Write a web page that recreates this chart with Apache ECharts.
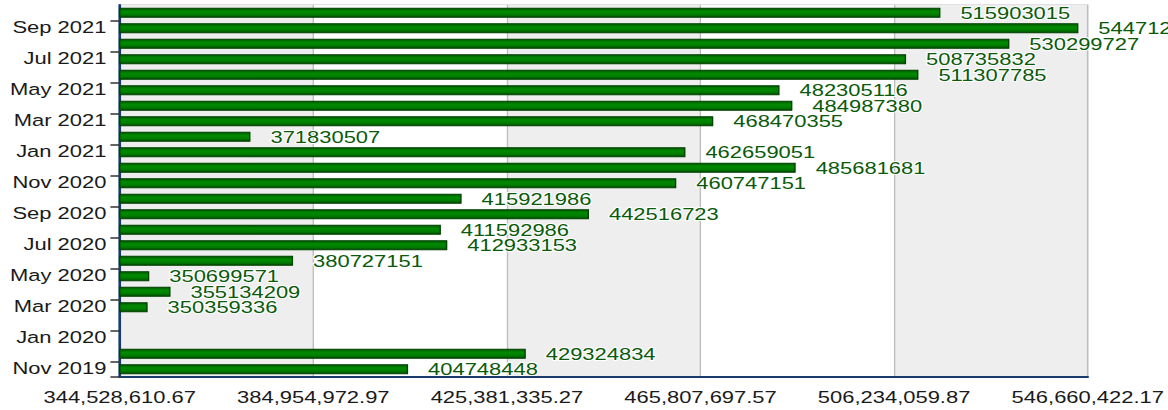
<!DOCTYPE html>
<html>
<head>
<meta charset="utf-8">
<script src="https://cdn.jsdelivr.net/npm/echarts@6/dist/echarts.min.js"></script>
<style>
  html, body { margin: 0; padding: 0; background: #fff; overflow: hidden; }
  /* the reference is stretched sideways, so draw narrow and widen */
  #chart { width: 878px; height: 410px; transform: scaleX(1.3303); transform-origin: 0 0; }
</style>
</head>
<body>
<div id="chart"></div>
<script>
// months, bottom to top
var months = ['Oct 2019', 'Nov 2019', 'Dec 2019', 'Jan 2020', 'Feb 2020', 'Mar 2020',
  'Apr 2020', 'May 2020', 'Jun 2020', 'Jul 2020', 'Aug 2020', 'Sep 2020',
  'Oct 2020', 'Nov 2020', 'Dec 2020', 'Jan 2021', 'Feb 2021', 'Mar 2021',
  'Apr 2021', 'May 2021', 'Jun 2021', 'Jul 2021', 'Aug 2021', 'Sep 2021'];

var values = [404748448, 429324834, null, null, 350359336, 355134209,
  350699571, 380727151, 412933153, 411592986, 442516723, 415921986,
  460747151, 485681681, 462659051, 371830507, 468470355, 484987380,
  482305116, 511307785, 508735832, 530299727, 544712050, 515903015];

// x tick values as printed under the axis
var xTicks = [344528610.67, 384954972.97, 425381335.27, 465807697.57, 506234059.87, 546660422.17];

// month boundaries that carry a label (every other one)
var labelAt = [];
for (var i = 1; i < months.length; i += 2) labelAt.push(i);

var font = "'Liberation Sans', Arial, sans-serif";

var chart = echarts.init(document.getElementById('chart'), null, { renderer: 'svg' });

chart.setOption({
  animation: false,
  grid: {
    left: 90, right: 60, top: 5, bottom: 33,
    show: true, borderColor: '#c4c4c4', borderWidth: 1, backgroundColor: 'transparent'
  },
  xAxis: {
    type: 'value',
    min: xTicks[0],
    max: xTicks[xTicks.length - 1],
    interval: xTicks[1] - xTicks[0],
    axisLine: { show: true, lineStyle: { color: '#173c6b', width: 2 } },
    axisTick: { show: false },
    axisLabel: {
      color: '#1a1a1a', fontFamily: font, fontSize: 16.5, margin: 12,
      formatter: function (v) {
        return v.toLocaleString('en-US', { minimumFractionDigits: 2, maximumFractionDigits: 2 });
      }
    },
    splitLine: { show: true, lineStyle: { color: '#bdbdbd', width: 1 } },
    splitArea: { show: true, areaStyle: { color: ['#eeeeee', '#ffffff'] } }
  },
  yAxis: [{
    // bars sit on this one
    type: 'category',
    data: months,
    axisLine: { show: true, onZero: false, lineStyle: { color: '#173c6b', width: 2 } },
    axisTick: { show: false },
    axisLabel: { show: false },
    splitLine: {
      show: true,
      interval: function (idx) { return idx % 2 === 1; },
      lineStyle: { color: '#bdbdbd', width: 1 }
    }
  }, {
    // labels hang just under the month boundaries
    type: 'value',
    position: 'left',
    min: 0,
    max: months.length,
    axisLine: { show: false },
    axisTick: {
      show: true, length: 7, customValues: [0].concat(labelAt),
      lineStyle: { color: '#333', width: 1.5 }
    },
    axisLabel: {
      customValues: labelAt, margin: 10,
      verticalAlign: 'top', lineHeight: 13,
      color: '#1a1a1a', fontFamily: font, fontSize: 16.5,
      formatter: function (v) { return months[v]; }
    },
    splitLine: { show: false }
  }],
  series: [{
    type: 'bar',
    yAxisIndex: 0,
    data: values,
    barWidth: 10,
    itemStyle: {
      color: new echarts.graphic.LinearGradient(0, 0, 0, 1, [
        { offset: 0, color: '#005800' },
        { offset: 0.35, color: '#008a00' },
        { offset: 0.7, color: '#007d00' },
        { offset: 1, color: '#004c00' }
      ]),
      borderColor: '#004000',
      borderWidth: 1
    },
    label: {
      show: true,
      position: 'right',
      distance: 15,
      color: '#0a5a0a',
      fontFamily: font,
      fontSize: 16.5,
      textBorderColor: '#ffffff',
      textBorderWidth: 2
    }
  }]
});
</script>
</body>
</html>
